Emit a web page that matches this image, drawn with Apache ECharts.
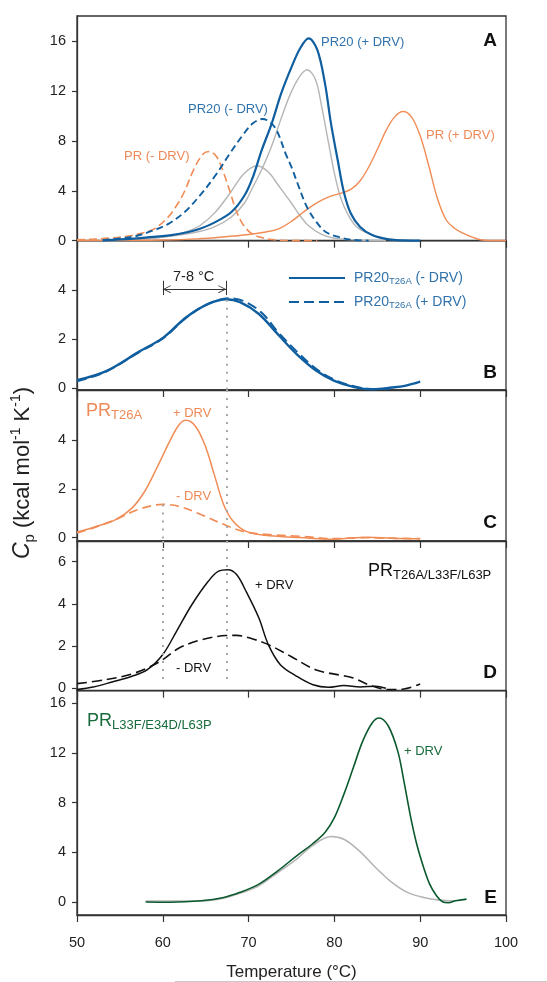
<!DOCTYPE html>
<html><head><meta charset="utf-8">
<script src="https://cdn.jsdelivr.net/npm/echarts@6/dist/echarts.min.js"></script>
<style>html,body{margin:0;padding:0;background:#fff}#c{width:547px;height:982px}</style>
</head><body><div id="c"></div>
<script>
// ---------------- DATA ----------------
const xTickLabels = [50, 60, 70, 80, 90, 100];
const yTicksA = [0, 4, 8, 12, 16];
const yTicksB = [0, 2, 4];
const yTicksC = [0, 2, 4];
const yTicksD = [0, 2, 4, 6];
const yTicksE = [0, 4, 8, 12, 16];

// Panel A  [Temperature (°C), Cp]
const prMinusDRV = [[50,0.08],[52,0.13],[54,0.22],[56,0.38],[57.5,0.6],[59,0.95],[60.5,1.8],[61.5,2.7],[62.5,3.9],[63.6,5.7],[64.7,6.95],[65.4,7.15],[66.3,6.7],[67,5.6],[67.8,4.0],[68.5,2.5],[69.3,1.35],[70.3,0.6],[71.5,0.25],[73,0.07],[75,0.01],[78,0]];
const prPlusDRV = [[50,0.02],[55,0.03],[60,0.06],[64,0.15],[67,0.3],[70,0.5],[72,0.7],[73.5,0.95],[75,1.55],[76.5,2.35],[78,3.05],[79.5,3.55],[81,3.85],[82,4.15],[83,4.8],[84,5.9],[85,7.3],[86,8.8],[87,9.9],[88,10.35],[89,9.9],[90,8.4],[91,6.0],[92,3.4],[93,1.7],[94,1.0],[95,0.6],[96,0.3],[97,0.08],[98,0.02],[100,0.02]];
const pr20MinusDRV = [[53,0.05],[55,0.18],[57,0.4],[58.8,0.8],[60.6,1.33],[62.5,2.27],[64.3,3.6],[66.1,5.2],[67.9,7.07],[69.4,8.53],[70.5,9.4],[71.6,9.75],[72.5,9.5],[73.3,8.8],[74.3,7.0],[75,5.9],[75.7,4.6],[76.8,2.7],[77.9,1.5],[79,0.7],[80.5,0.3],[82,0.08],[84,0.01]];
const pr20PlusDRV = [[53,0.03],[55,0.1],[58,0.25],[61,0.45],[63,0.7],[64.5,1.0],[66,1.45],[68,2.3],[69.5,3.6],[70.5,5.1],[71.5,7.2],[72.7,9.4],[73.8,11.8],[75,13.9],[76,15.4],[77,16.2],[78,15.3],[78.9,12.6],[79.6,9.4],[80.4,6.4],[81.1,3.9],[81.9,2.2],[83,1.1],[84.4,0.45],[86.3,0.1],[88,0.02],[90,0]];
const pr20PlusFit = [[55,0.05],[57,0.13],[60,0.3],[64,0.7],[66,1.1],[68,1.9],[69.5,3.0],[70.5,4.3],[71.6,5.8],[72.7,7.6],[73.8,9.8],[74.9,11.8],[76,13.2],[76.8,13.7],[77.8,12.9],[78.5,10.8],[79.3,7.9],[80,5.4],[80.7,3.5],[81.5,2.2],[82.6,1.1],[84.4,0.45],[86.3,0.15],[89,0.02]];
const pr20MinusFit = [[55,0.03],[57,0.08],[58.8,0.19],[60.6,0.35],[62.5,0.67],[64.3,1.2],[66.1,2.27],[67.9,3.87],[69.4,5.33],[71,6.0],[72.3,5.5],[73.4,4.5],[74.9,3.1],[76,2.0],[77,1.2],[78.5,0.5],[80,0.2],[83,0.05],[86,0]];

// Panel B
const pr20T26AMinus = [[50,0.33],[53.4,0.7],[57.1,1.46],[60.1,2.07],[62.7,2.88],[65.3,3.43],[67.4,3.62],[69,3.5],[71.2,3.02],[73.4,2.2],[75.6,1.39],[77.9,0.71],[80,0.3],[82.3,0.05],[84.5,-0.04],[86.7,0.03],[88.2,0.1],[90,0.27]];
const pr20T26APlus = [[50,0.28],[53.4,0.68],[57.1,1.44],[60.1,2.05],[62.7,2.86],[65.3,3.43],[67.8,3.66],[69.4,3.55],[71.5,3.08],[73.4,2.3],[75.6,1.5],[77.9,0.78],[80,0.35],[82.3,0.08],[84.5,-0.03],[86.5,-0.02]];

// Panel C
const prT26APlus = [[50,0.23],[51.9,0.42],[54.5,0.74],[56.4,1.21],[57.9,1.9],[59.3,2.85],[60.8,3.94],[61.9,4.62],[62.7,4.8],[63.8,4.56],[64.9,3.8],[66,2.58],[67.1,1.35],[68.2,0.67],[69.7,0.26],[71.9,0.1],[75.6,0.01],[78,-0.04],[80,-0.06],[82,-0.01],[84,0.02],[86.7,-0.02],[90,-0.04]];
const prT26AMinus = [[50,0.19],[51.9,0.4],[54.5,0.74],[57.1,1.15],[60,1.36],[61.9,1.28],[64.5,0.94],[67.4,0.5],[69.7,0.23],[72.7,0.12],[76.4,0.05],[80,-0.04],[83,0.0],[86.7,-0.02],[90,-0.04]];

// Panel D
const prTripleDPlus = [[50,-0.06],[51.9,0.06],[54.1,0.3],[56.4,0.57],[58.2,0.88],[60,1.6],[61.6,2.7],[63.4,3.97],[65.3,5.07],[66.5,5.55],[67.6,5.62],[68.6,5.39],[69.7,4.6],[71.2,3.33],[72.3,2.07],[73.7,1.12],[75.6,0.57],[77.5,0.17],[79.3,0.05],[81.1,0.13],[83,0.06],[84.8,0.1],[86,0.0]];
const prTripleDMinus = [[50,0.22],[53.4,0.41],[56.4,0.68],[58.6,1.04],[60,1.36],[61.9,1.91],[64.5,2.3],[67.4,2.5],[68.6,2.51],[70.4,2.35],[72.3,2.07],[74.9,1.52],[77.8,0.88],[80.7,0.62],[82.2,0.49],[84,0.17],[86.3,-0.06],[88.1,-0.03],[90,0.2]];

// Panel E
const prTripleEPlus = [[58,0.0],[60.8,-0.02],[64.5,0.1],[67.1,0.37],[69,0.78],[71.2,1.44],[73.4,2.51],[75.6,3.72],[77.4,4.65],[78.9,5.59],[80,6.79],[81.1,8.66],[82.2,10.8],[83.3,12.94],[84.4,14.4],[85.2,14.8],[86.3,14.14],[87.4,12.1],[88.1,9.73],[88.9,6.79],[89.6,4.65],[90.4,2.78],[91.1,1.44],[91.9,0.51],[92.6,0.03],[93.3,-0.05],[94.1,0.1],[95.4,0.24]];
const prTripleEFit = [[58,0.08],[64.5,0.1],[67.1,0.32],[69,0.7],[71.2,1.31],[73.4,2.38],[75.6,3.45],[77.4,4.52],[79.6,5.27],[81.1,5.05],[82.9,4.12],[84.8,2.78],[86.7,1.58],[88.5,0.78],[90.4,0.37],[92.3,0.16],[94.1,0.1]];

// annotation values (°C, Cp)
const refTempA = 67.4, refTempB = 60;
const bPeak = 3.6, cMinusPeak = 1.36, dFloor = 0.17;
const spanY = 4.03;

// ---------------- LAYOUT / STYLE ----------------
const FONT = 'Liberation Sans, Arial, Helvetica, sans-serif';
const BLUE = '#0f5e9f', BLUE_T = '#3072ab', ORANGE = '#f08c56', ORANGE_T = '#ee8a58',
      GRAY = '#b5b5b5', GREEN = '#0b5a2f', GREEN_T = '#176b3c', BLACK = '#111', AX = '#333';
const panels = [
  {top:16,    height:224.7, min:0,      max:18,   ticks:yTicksA},
  {top:240.7, height:149.3, min:-0.07,  max:6.0,  ticks:yTicksB},
  {top:390,   height:151,   min:-0.135, max:6.04, ticks:yTicksC},
  {top:541,   height:149.7, min:-0.114, max:6.98, ticks:yTicksD},
  {top:690.7, height:225,   min:-1.04,  max:17.0, ticks:yTicksE}
];
const grids = panels.map(p => ({left:77, right:41, top:p.top, height:p.height, show:true, borderColor:AX, borderWidth:1.3, backgroundColor:'transparent'}));
const xAxes = panels.map((p,i) => ({
  type:'value', gridIndex:i, min:xTickLabels[0], max:xTickLabels[xTickLabels.length-1], interval:10,
  axisLine:{show:true, onZero:false, lineStyle:{color:AX, width:1.3}},
  axisTick:{show:true, inside:false, length:7, lineStyle:{color:AX, width:1.2}},
  axisLabel:{show:i===4, color:'#222', fontSize:14.5, fontFamily:FONT, margin:20},
  splitLine:{show:false},
  name: i===4 ? 'Temperature (°C)' : '', nameLocation:'middle', nameGap:49,
  nameTextStyle:{fontSize:17, color:'#222', fontFamily:FONT, letterSpacing:0.8}
}));
const yAxes = panels.map((p,i) => ({
  type:'value', gridIndex:i, min:p.min, max:p.max,
  axisLine:{show:true, onZero:false, lineStyle:{color:AX, width:1.3}},
  axisTick:{show:true, inside:false, length:5, customValues:p.ticks, lineStyle:{color:AX, width:1.2}},
  axisLabel:{show:true, customValues:p.ticks, color:'#222', fontSize:14.5, fontFamily:FONT, margin:11},
  splitLine:{show:false}
}));

function ln(name, data, gi, color, width, dash, extra) {
  return Object.assign({
    name, type:'line', data, xAxisIndex:gi, yAxisIndex:gi, smooth:0.35, symbol:'none',
    showSymbol:false, clip:false, silent:true, animation:false,
    lineStyle:{color, width, type: dash || 'solid', cap:'butt'}, itemStyle:{color}
  }, extra || {});
}
const dotStyle = {color:'#a9a9a9', width:2, type:[2,6]};
const chevron = 'path://M0,-10L0,-10M0,0L6,10L4.6,10L0,2.3L-4.6,10L-6,10Z';

const nameB1 = 'PR20T26A (- DRV)', nameB2 = 'PR20T26A (+ DRV)';

const series = [
  ln('fitA1', pr20PlusFit, 0, GRAY, 1.4),
  ln('fitA2', pr20MinusFit, 0, GRAY, 1.4),
  ln('PR (- DRV)', prMinusDRV, 0, ORANGE, 1.6, [8,4]),
  ln('PR (+ DRV)', prPlusDRV, 0, ORANGE, 1.4),
  ln('PR20 (- DRV)', pr20MinusDRV, 0, BLUE, 1.9, [7,4]),
  ln('PR20 (+ DRV)', pr20PlusDRV, 0, BLUE, 2.2),

  ln(nameB1, pr20T26AMinus, 1, BLUE, 2.4, null, {
    markLine:{silent:true, symbol:'none', animation:false, label:{show:false}, lineStyle:dotStyle,
      data:[[{coord:[refTempA, bPeak]},{coord:[refTempA, panels[1].min]}]]}
  }),
  ln(nameB2, pr20T26APlus, 1, BLUE, 2.0, [10,5], {
    markLine:{silent:true, animation:false, symbol:[chevron, chevron], symbolSize:[8,16], label:{show:false},
      lineStyle:{color:'#333', width:1, type:'solid'},
      data:[
        [{coord:[refTempB, spanY]},{coord:[refTempA, spanY]}],
        [{coord:[refTempB, 3.79], symbol:'none'},{coord:[refTempB, 4.37], symbol:'none'}],
        [{coord:[refTempA, 3.79], symbol:'none'},{coord:[refTempA, 4.37], symbol:'none'}]
      ]}
  }),

  ln('PRT26A + DRV', prT26APlus, 2, ORANGE, 1.5, null, {
    markLine:{silent:true, symbol:'none', animation:false, label:{show:false}, lineStyle:dotStyle,
      data:[[{coord:[refTempA, panels[2].max]},{coord:[refTempA, panels[2].min]}],
            [{coord:[refTempB, cMinusPeak]},{coord:[refTempB, panels[2].min]}]]}
  }),
  ln('PRT26A - DRV', prT26AMinus, 2, ORANGE, 1.7, [9,5]),

  ln('D + DRV', prTripleDPlus, 3, BLACK, 1.5, null, {
    markLine:{silent:true, symbol:'none', animation:false, label:{show:false}, lineStyle:dotStyle,
      data:[[{coord:[refTempA, panels[3].max]},{coord:[refTempA, dFloor]}],
            [{coord:[refTempB, panels[3].max]},{coord:[refTempB, dFloor]}]]}
  }),
  ln('D - DRV', prTripleDMinus, 3, BLACK, 1.6, [10,5]),

  ln('E fit', prTripleEFit, 4, GRAY, 1.6),
  ln('E + DRV', prTripleEPlus, 4, GREEN, 1.6)
];

function txt(x, y, text, opts) {
  return {type:'text', x, y, silent:true, z:100, style:Object.assign({
    text, fill:'#222', fontSize:13, fontFamily:FONT, align:'left', verticalAlign:'middle'
  }, opts || {})};
}
function subLabel(x, y, main, sub, color) {
  return {type:'text', x, y, silent:true, z:100, style:{
    text:'{a|' + main + '}{s|' + sub + '}', align:'left', verticalAlign:'middle',
    rich:{a:{fontSize:18, fontFamily:FONT, fill:color, color:color, lineHeight:22, verticalAlign:'middle'},
          s:{fontSize:13, fontFamily:FONT, fill:color, color:color, lineHeight:10, verticalAlign:'bottom'}}
  }};
}
const bold = {fontSize:19, fontWeight:'bold', fill:'#111', align:'right'};
const graphics = [
  txt(321, 42, 'PR20 (+ DRV)', {fill:BLUE_T, letterSpacing:0.3}),
  txt(188, 109.5, 'PR20 (- DRV)', {fill:BLUE_T, letterSpacing:0.3}),
  txt(124, 156, 'PR (- DRV)', {fill:ORANGE_T, letterSpacing:0.3}),
  txt(426, 135, 'PR (+ DRV)', {fill:ORANGE_T, letterSpacing:0.3}),
  txt(497, 41, 'A', bold),
  txt(173, 277, '7-8 °C', {fontSize:14.5}),
  txt(497, 373, 'B', bold),
  subLabel(86, 411, 'PR', 'T26A', ORANGE_T),
  txt(173, 413, '+ DRV', {fill:ORANGE_T}),
  txt(176, 496, '- DRV', {fill:ORANGE_T}),
  txt(497, 523, 'C', bold),
  subLabel(368, 571, 'PR', 'T26A/L33F/L63P', '#111'),
  txt(255, 585, '+ DRV', {fill:'#111'}),
  txt(176, 668, '- DRV', {fill:'#111'}),
  txt(497, 673, 'D', bold),
  subLabel(87, 721, 'PR', 'L33F/E34D/L63P', GREEN_T),
  txt(404, 751, '+ DRV', {fill:GREEN_T}),
  txt(497, 898, 'E', bold),
  {type:'text', x:23, y:473, rotation:Math.PI/2, silent:true, z:100, style:{
    text:'{c|C}{p|p}{n| (kcal mol}{u|-1}{n| K}{u|-1}{n|)}', align:'center', verticalAlign:'middle',
    rich:{
      c:{fontSize:23, fontStyle:'italic', fontFamily:FONT, fill:'#222', color:'#222', lineHeight:28},
      p:{fontSize:15, fontFamily:FONT, fill:'#222', color:'#222', lineHeight:12, verticalAlign:'bottom'},
      n:{fontSize:22, fontFamily:FONT, fill:'#222', color:'#222', lineHeight:28},
      u:{fontSize:14, fontFamily:FONT, fill:'#222', color:'#222', lineHeight:12, verticalAlign:'top'}
    }}},
  {type:'line', silent:true, shape:{x1:175, y1:981.5, x2:547, y2:981.5}, style:{stroke:'#c8c8c8', lineWidth:1}}
];

const chart = echarts.init(document.getElementById('c'), null, {renderer:'canvas'});
chart.setOption({
  backgroundColor:'#fff', animation:false,
  textStyle:{fontFamily:FONT},
  grid:grids, xAxis:xAxes, yAxis:yAxes, series,
  legend:{
    data:[nameB1, nameB2], orient:'vertical', left:283, top:266, itemWidth:56, itemHeight:14, itemGap:9,
    selectedMode:false, itemStyle:{opacity:0, borderWidth:0},
    textStyle:{rich:{
      a:{fontSize:14, color:BLUE_T, fontFamily:FONT, lineHeight:16},
      g:{width:4},
      s:{fontSize:9.5, color:BLUE_T, fontFamily:FONT, lineHeight:8, verticalAlign:'bottom'}}},
    formatter: n => n === nameB1 ? '{g|}{a|PR20}{s|T26A}{a| (- DRV)}' : '{g|}{a|PR20}{s|T26A}{a| (+ DRV)}'
  },
  graphic:graphics
});
</script></body></html>
